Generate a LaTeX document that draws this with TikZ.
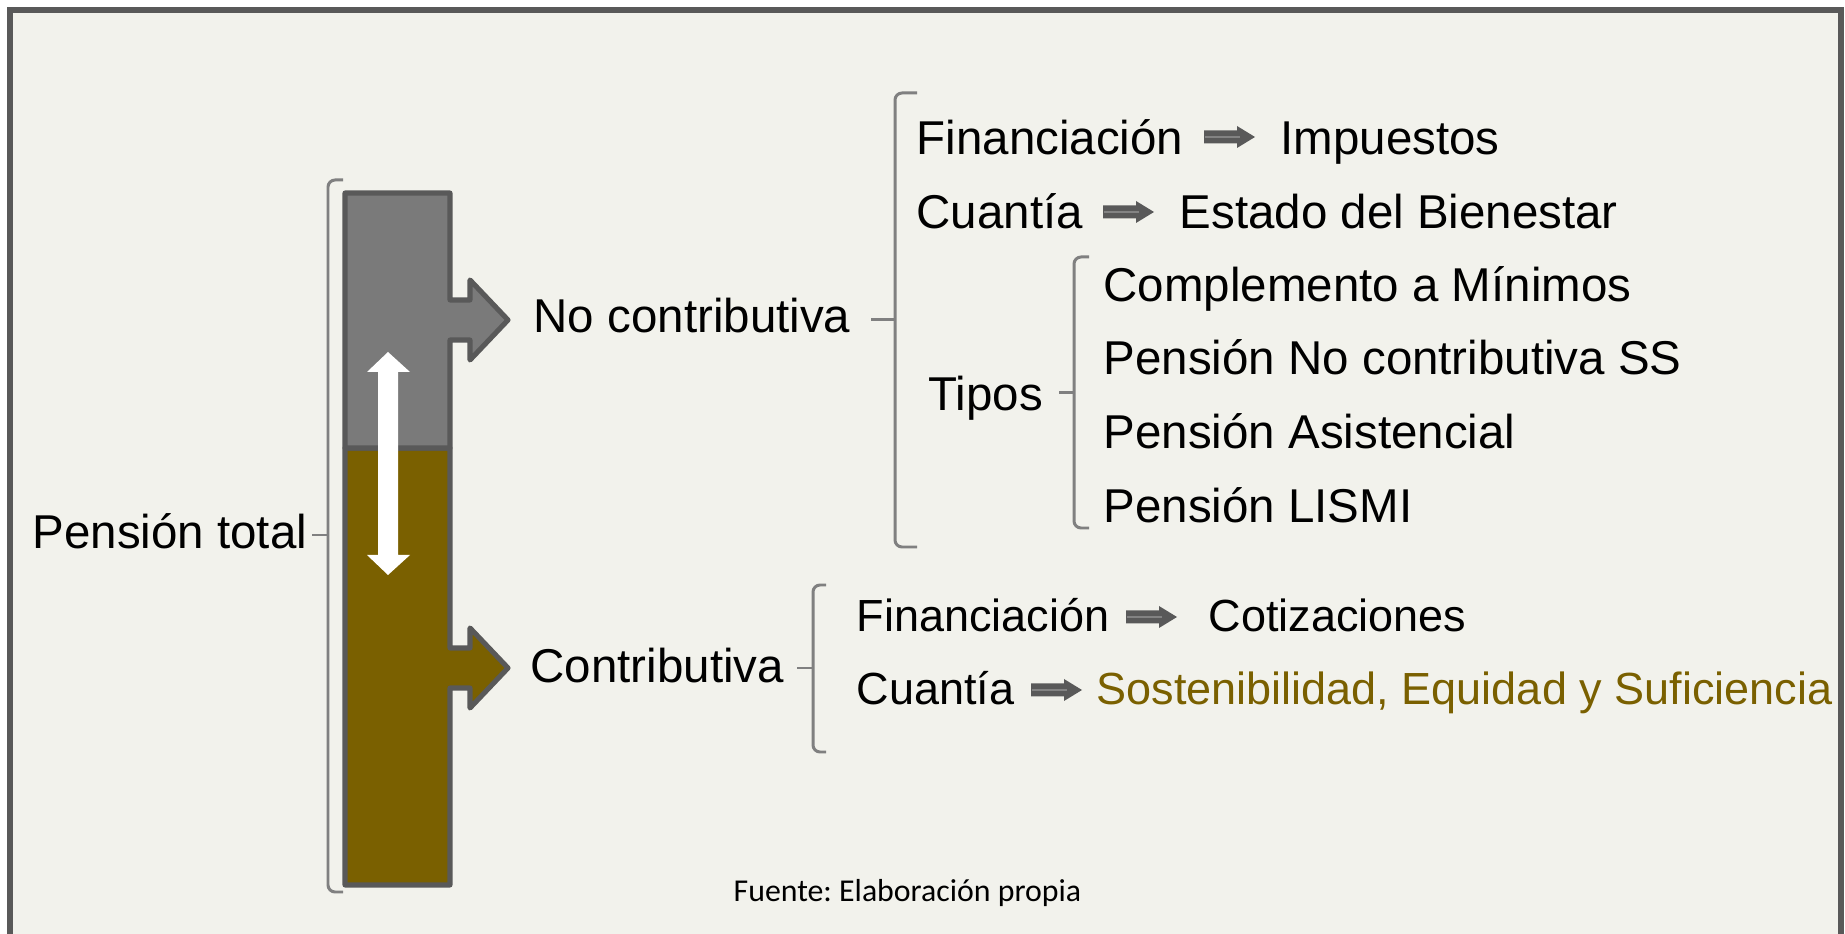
\documentclass[tikz,border=0pt]{standalone}
\usepackage{fontspec}
\setmainfont{Liberation Sans}
\newfontfamily\fuentefont{Carlito}
\definecolor{fondo}{HTML}{F2F2EC}
\definecolor{marco}{HTML}{595959}
\definecolor{barragris}{HTML}{7A7A7A}
\definecolor{barraoro}{HTML}{7A6000}
\definecolor{llave}{HTML}{808080}
\begin{document}
\begin{tikzpicture}[x=0.01cm, y=-0.01cm,
    txt/.style={inner sep=0pt, anchor=base west, font=\fontsize{13.5}{16}\selectfont},
    txtsm/.style={inner sep=0pt, anchor=base west, font=\fontsize{12.8}{15}\selectfont},
    llaveline/.style={draw=llave, line width=0.85pt, rounded corners=2pt},
    barra/.style={draw=marco, line width=1.45pt, line join=round},
    flechita/.pic={
        \fill[marco] (0,-6.5) -- (33,-6.5) -- (33,-11) -- (51,0) -- (33,11) -- (33,6.5) -- (0,6.5) -- cycle;
        \draw[marco!75!white, line width=0.6pt] (1,0) -- (36,0);
    }]
    \clip (0,0) rectangle (1845,934);
    \useasboundingbox (0,0) rectangle (1845,934);
    \fill[white] (0,0) rectangle (1845,934);
    \draw[marco, line width=1.7pt, fill=fondo] (10,10) rectangle (1841,960);

    % columna de la pension
    \draw[barra, fill=barraoro] (345,448) -- (450,448) -- (450,648) -- (470,648) -- (470,628) -- (508,668)
        -- (470,708) -- (470,688) -- (450,688) -- (450,885) -- (345,885) -- cycle;
    \draw[barra, fill=barragris] (345,193) -- (450,193) -- (450,300) -- (470,300) -- (470,280) -- (508,320)
        -- (470,360) -- (470,340) -- (450,340) -- (450,448) -- (345,448) -- cycle;

    % flecha doble blanca
    \fill[white] (388,352) -- (410,372) -- (398,372) -- (398,555) -- (410,555) -- (388,575)
        -- (367,555) -- (378,555) -- (378,372) -- (367,372) -- cycle;

    % textos
    \node[txt] (total) at (32,549) {Pensión total};
    \node[txt] (nocontrib) at (533,333) {No contributiva};
    \node[txt] (contrib) at (530,683) {Contributiva};

    \node[txt] (fin1) at (916,155) {Financiación};
    \node[txt] (impuestos) at (1280,155) {Impuestos};
    \node[txt] (cua1) at (916,229) {Cuantía};
    \node[txt] (estado) at (1179,229) {Estado del Bienestar};
    \node[txt] (tipos) at (928,411) {Tipos};
    \node[txt] (tipo1) at (1103,302) {Complemento a Mínimos};
    \node[txt] (tipo2) at (1103,375) {Pensión No contributiva SS};
    \node[txt] (tipo3) at (1103,449) {Pensión Asistencial};
    \node[txt] (tipo4) at (1103,523) {Pensión LISMI};

    \node[txtsm] (fin2) at (856,632) {Financiación};
    \node[txtsm] (cotiz) at (1208,632) {Cotizaciones};
    \node[txtsm] (cua2) at (856,705) {Cuantía};
    \node[txtsm, text=barraoro] (sosten) at (1096,705) {Sostenibilidad, Equidad y Suficiencia};

    \node[inner sep=0pt, anchor=base west, font=\fuentefont\fontsize{9.05}{10}\selectfont] (fuente) at (733,902) {Fuente:\ Elaboración propia};

    % flechas pequenas
    \pic at (1204,137) {flechita};
    \pic at (1103,212) {flechita};
    \pic at (1126,617) {flechita};
    \pic at (1031,690) {flechita};

    % llaves
    \draw[llaveline] (343,180) -- (328,180) -- (328,892) -- (343,892);
    \draw[llaveline] (328,535) -- (312,535);
    \draw[llaveline] (917,93) -- (895,93) -- (895,547) -- (917,547);
    \draw[llaveline] (895,320) -- (871,320);
    \draw[llaveline] (1089,257) -- (1074,257) -- (1074,528) -- (1089,528);
    \draw[llaveline] (1074,393) -- (1059,393);
    \draw[llaveline] (826,585) -- (813,585) -- (813,752) -- (826,752);
    \draw[llaveline] (813,668) -- (797,668);
\end{tikzpicture}
\end{document}
